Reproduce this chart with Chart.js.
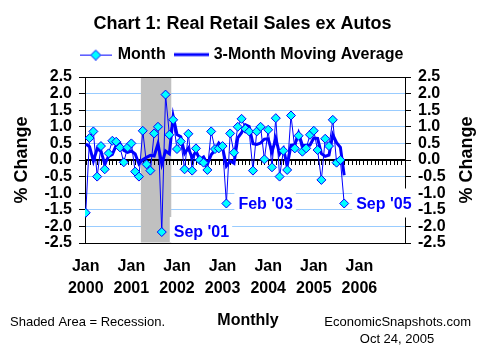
<!DOCTYPE html>
<html><head><meta charset="utf-8">
<script src="https://cdn.jsdelivr.net/npm/chart.js@4.4.0/dist/chart.umd.min.js"></script>
<style>html,body{margin:0;padding:0;background:#fff;}#wrap{width:485px;height:356px;position:relative;}</style>
</head><body><div id="wrap"><canvas id="c" width="485" height="356"></canvas></div>
<script>
const FONT = 'Arial, "Liberation Sans", sans-serif';
const yearLabels = ['2000','2001','2002','2003','2004','2005','2006'];
// monthly % change, Jan 2000 .. Sep 2005
const monthChange = [-1.59,0.66,0.86,-0.5,0.42,-0.28,0.2,0.58,0.55,0.38,-0.07,0.38,
  0.5,-0.35,-0.5,0.88,-0.13,-0.32,0.8,1.0,-2.17,1.97,0.76,1.21,
  0.33,0.56,-0.28,0.79,-0.32,0.35,0.0,-0.08,-0.3,0.86,0.33,0.35,
  0.42,-1.31,0.8,0.22,1.0,1.24,0.94,0.86,-0.32,0.86,1.0,0.02,
  0.91,-0.22,1.26,-0.5,0.28,-0.3,1.34,0.35,0.73,0.25,0.35,0.76,
  0.88,0.3,-0.6,0.64,0.42,1.21,-0.08,0.0,-1.31];
// 3-month moving average
const movingAvg = [0.48,0.40,-0.03,0.34,0.26,-0.12,0.11,0.17,0.44,0.50,0.29,0.23,
  0.27,0.18,-0.12,0.01,0.08,0.14,0.12,0.49,-0.12,0.27,0.19,1.31,
  0.77,0.70,0.20,0.36,0.06,0.27,0.01,0.09,-0.13,0.16,0.30,0.51,
  0.37,-0.18,-0.03,-0.10,0.67,0.82,1.06,1.01,0.49,0.47,0.51,0.63,
  0.64,0.24,0.65,0.18,0.35,-0.17,0.44,0.46,0.81,0.44,0.44,0.45,
  0.66,0.65,0.19,0.11,0.15,0.76,0.52,0.38,-0.46];
const recession = {start: 14.5, end: 22.5};
const callouts = [{index: 20, text: "Sep '01"}, {index: 37, text: "Feb '03"}, {index: 68, text: "Sep '05"}];
const xRange = {min: -0.2, max: 84};
const yRange = {min: -2.5, max: 2.5, step: 0.5};
const monthCount = 84;

const BLUE = '#0000ff', CYAN = '#00ffff', GRID = '#99ccff';

function makeMonthIcon(){
  const c = document.createElement('canvas'); c.width = 32; c.height = 12;
  const g = c.getContext('2d');
  g.strokeStyle = BLUE; g.lineWidth = 1;
  g.beginPath(); g.moveTo(0, 6.5); g.lineTo(32, 6.5); g.stroke();
  g.beginPath(); g.moveTo(16, 1.5); g.lineTo(21, 6.5); g.lineTo(16, 11.5); g.lineTo(11, 6.5); g.closePath();
  g.fillStyle = CYAN; g.fill(); g.stroke();
  return c;
}
function makeAvgIcon(){
  const c = document.createElement('canvas'); c.width = 35; c.height = 6;
  const g = c.getContext('2d');
  g.strokeStyle = BLUE; g.lineWidth = 3;
  g.beginPath(); g.moveTo(0, 3); g.lineTo(35, 3); g.stroke();
  return c;
}
const monthIcon = makeMonthIcon(), avgIcon = makeAvgIcon();

const decor = {
  id: 'decor',
  beforeDatasetsDraw(chart){
    const {ctx, chartArea: a, scales: {x, y}} = chart;
    ctx.save();
    const x1 = x.getPixelForValue(recession.start), x2 = x.getPixelForValue(recession.end);
    ctx.fillStyle = '#c0c0c0';
    ctx.fillRect(x1, a.top + 1, x2 - x1, a.bottom - a.top - 1.5);
    const y0 = Math.round(y.getPixelForValue(0));
    ctx.strokeStyle = '#000';
    ctx.lineWidth = 2;
    ctx.beginPath(); ctx.moveTo(a.left, y0); ctx.lineTo(a.right, y0); ctx.stroke();
    ctx.lineWidth = 1;
    ctx.beginPath();
    for (let m = 0; m < monthCount; m++) {
      const px = Math.round(x.getPixelForValue(m)) + 0.5;
      ctx.moveTo(px, y0); ctx.lineTo(px, y0 + 5);
    }
    ctx.stroke();
    ctx.restore();
  },
  afterDatasetsDraw(chart){
    const {ctx, chartArea: a, scales: {x, y}} = chart;
    ctx.save();
    ctx.font = 'bold 16px ' + FONT;
    ctx.textBaseline = 'middle';
    ctx.textAlign = 'left';
    callouts.forEach(c => {
      const px = x.getPixelForValue(c.index), py = y.getPixelForValue(monthChange[c.index]);
      const w = ctx.measureText(c.text).width;
      const top = Math.max(py - 15, a.top + 1), bot = Math.min(py + 14, a.bottom - 1);
      ctx.fillStyle = '#fff';
      ctx.fillRect(px + 8, top, w + 7, bot - top);
      ctx.fillStyle = BLUE;
      ctx.fillText(c.text, px + 12, py + 1);
    });
    ctx.restore();
  },
  afterDraw(chart){
    const {ctx, chartArea: a} = chart;
    ctx.save();
    ctx.fillStyle = '#000';
    ctx.textBaseline = 'middle';
    ctx.font = '13px ' + FONT;
    ctx.textAlign = 'left';
    ctx.fillText('Shaded Area = Recession.', 10, 322);
    ctx.textAlign = 'right';
    ctx.fillText('EconomicSnapshots.com', 471, 322);
    ctx.textAlign = 'center';
    ctx.fillText('Oct 24, 2005', 397, 339);
    ctx.font = 'bold 16px ' + FONT;
    ctx.fillText('Monthly', 248, 321);
    ctx.font = 'bold 18px ' + FONT;
    ctx.translate(467, (a.top + a.bottom) / 2);
    ctx.rotate(-Math.PI / 2);
    ctx.fillText('% Change', 0, 0);
    ctx.restore();
  }
};

new Chart(document.getElementById('c'), {
  type: 'line',
  data: {
    datasets: [
      {label: 'Month', data: monthChange.map((v, i) => ({x: i, y: v})), borderColor: BLUE, borderWidth: 1,
       pointStyle: 'rectRot', pointRadius: 4.5, pointHoverRadius: 4.5, pointBackgroundColor: CYAN,
       pointBorderColor: BLUE, pointBorderWidth: 1, tension: 0, order: 0, xAxisID: 'x', yAxisID: 'y'},
      {label: '3-Month Moving Average', data: movingAvg.map((v, i) => ({x: i, y: v})), borderColor: BLUE, borderWidth: 3,
       pointRadius: 0, tension: 0, order: 1, xAxisID: 'x', yAxisID: 'y'}
    ]
  },
  options: {
    responsive: false, animation: false, devicePixelRatio: 1, events: [],
    layout: {padding: 0},
    plugins: {
      tooltip: {enabled: false},
      title: {display: true, text: 'Chart 1: Real Retail Sales ex Autos', color: '#000',
        font: {family: FONT, size: 18, weight: 'bold'}, padding: {top: 13, bottom: 0}},
      legend: {display: true, position: 'top',
        labels: {color: '#000', font: {family: FONT, size: 16, weight: 'bold'}, padding: 12,
          usePointStyle: true, pointStyleWidth: 28,
          generateLabels: () => [
            {text: 'Month', pointStyle: monthIcon, fillStyle: CYAN, strokeStyle: BLUE, lineWidth: 0, hidden: false, datasetIndex: 0, fontColor: '#000'},
            {text: '3-Month Moving Average', pointStyle: avgIcon, fillStyle: BLUE, strokeStyle: BLUE, lineWidth: 0, hidden: false, datasetIndex: 1, fontColor: '#000'}
          ]}}
    },
    scales: {
      x: {type: 'linear', position: 'bottom', min: xRange.min, max: xRange.max,
        afterBuildTicks: s => { s.ticks = yearLabels.map((_, i) => ({value: i * 12})); },
        ticks: {autoSkip: false, maxRotation: 0, color: '#000', padding: 13,
          font: {family: FONT, size: 16, weight: 'bold', lineHeight: 1.375},
          callback: v => ['Jan', yearLabels[Math.round(v / 12)]]},
        grid: {display: false, drawTicks: false},
        border: {display: true, color: '#000', width: 1},
        afterFit: s => { s.height = 113; }},
      xt: {type: 'linear', position: 'top', min: xRange.min, max: xRange.max,
        ticks: {display: false}, grid: {display: false, drawTicks: false},
        border: {display: true, color: '#000', width: 1},
        afterFit: s => { s.height = 4.4; }},
      y: {type: 'linear', position: 'left', min: yRange.min, max: yRange.max,
        ticks: {stepSize: yRange.step, autoSkip: false, color: '#000', padding: 7, font: {family: FONT, size: 16, weight: 'bold'},
          callback: v => v.toFixed(1)},
        grid: {color: GRID, tickColor: '#000', tickLength: 6, lineWidth: 1},
        border: {display: true, color: '#000', width: 1},
        title: {display: true, text: '% Change', color: '#000', font: {family: FONT, size: 18, weight: 'bold'}, padding: {top: 11, bottom: 0}},
        afterFit: s => { s.width = 85; }},
      y2: {type: 'linear', position: 'right', min: yRange.min, max: yRange.max,
        ticks: {stepSize: yRange.step, autoSkip: false, color: '#000', padding: 7, font: {family: FONT, size: 16, weight: 'bold'},
          callback: v => v.toFixed(1)},
        grid: {drawOnChartArea: false, tickColor: '#000', tickLength: 6},
        border: {display: true, color: '#000', width: 1},
        afterFit: s => { s.width = 80; }}
    }
  },
  plugins: [decor]
});
</script></body></html>
